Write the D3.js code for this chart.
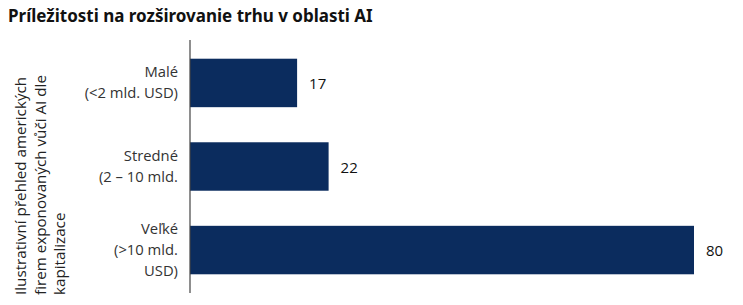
<!DOCTYPE html>
<meta charset="utf-8">
<style>
body{margin:0;background:#fff;}
text{font-family:"Open Sans","Noto Sans",sans-serif;}
</style>
<body>
<svg id="chart"></svg>
<script src="https://cdnjs.cloudflare.com/ajax/libs/d3/7.8.5/d3.min.js"></script>
<script>

var categories=[
	["Malé","(<2 mld. USD)"],
	["Stredné","(2 – 10 mld."],
	["Veľké","(>10 mld.","USD)"]
];
var values=[17,22,80];
var yTitle=["Ilustrativní přehled amerických","firem exponovaných vůči AI dle","kapitalizace"];
var title="Príležitosti na rozširovanie trhu v oblasti AI";

var W=743,H=305;
var margin={top:40,right:49,bottom:12,left:190};

var svg=d3.select('#chart').attr("width",W).attr("height",H);

svg.append("text")
	.attr("x",8).attr("y",22)
	.style("font-family","'Noto Sans',sans-serif")
	.style("font-size","17px").style("font-weight","bold").attr("fill","#111")
	.text(title);

var x=d3.scaleLinear().domain([0,80]).range([margin.left,W-margin.right]);
var y=d3.scaleBand().domain(d3.range(values.length))
	.range([margin.top+2,H-margin.bottom-2]).paddingInner(0.42).paddingOuter(0.2);

svg.selectAll('.bar')
	.data(values)
	.enter()
	.append('rect')
	.attr('class','bar')
	.attr('x',x(0))
	.attr('y',(d,i)=>y(i))
	.attr('width',d=>x(d)-x(0))
	.attr('height',y.bandwidth())
	.attr('fill','#0b2c5e');

svg.selectAll('.val')
	.data(values)
	.enter()
	.append('text')
	.attr('class','val')
	.attr('x',d=>x(d)+12)
	.attr('y',(d,i)=>y(i)+y.bandwidth()/2+6)
	.style("font-size","15px").attr("fill","#111")
	.text(d=>d);

// category labels, several lines each
var cat=svg.selectAll('.cat')
	.data(categories)
	.enter()
	.append('text')
	.attr('class','cat')
	.attr('text-anchor','end')
	.style("font-size","14.8px").attr("fill","#333");
cat.selectAll('tspan')
	.data((d,i)=>d.map(s=>({s:s,i:i,n:d.length})))
	.enter()
	.append('tspan')
	.attr('x',margin.left-12)
	.attr('y',(d,k)=>y(d.i)+y.bandwidth()/2-(d.n-1)*10.5+k*21+5)
	.text(d=>d.s);

// y axis line
svg.append("line")
	.attr("x1",x(0)).attr("x2",x(0))
	.attr("y1",margin.top).attr("y2",H-margin.bottom)
	.attr("stroke","#444").attr("stroke-width",1.2);

// rotated axis title
var yt=svg.append("text")
	.attr("transform","translate(0,295) rotate(-90)")
	.style("font-size","15.2px").attr("fill","#222");
yt.selectAll("tspan")
	.data(yTitle)
	.enter()
	.append("tspan")
	.attr("x",0)
	.attr("y",(d,i)=>26+i*19.5)
	.text(d=>d);
</script>
